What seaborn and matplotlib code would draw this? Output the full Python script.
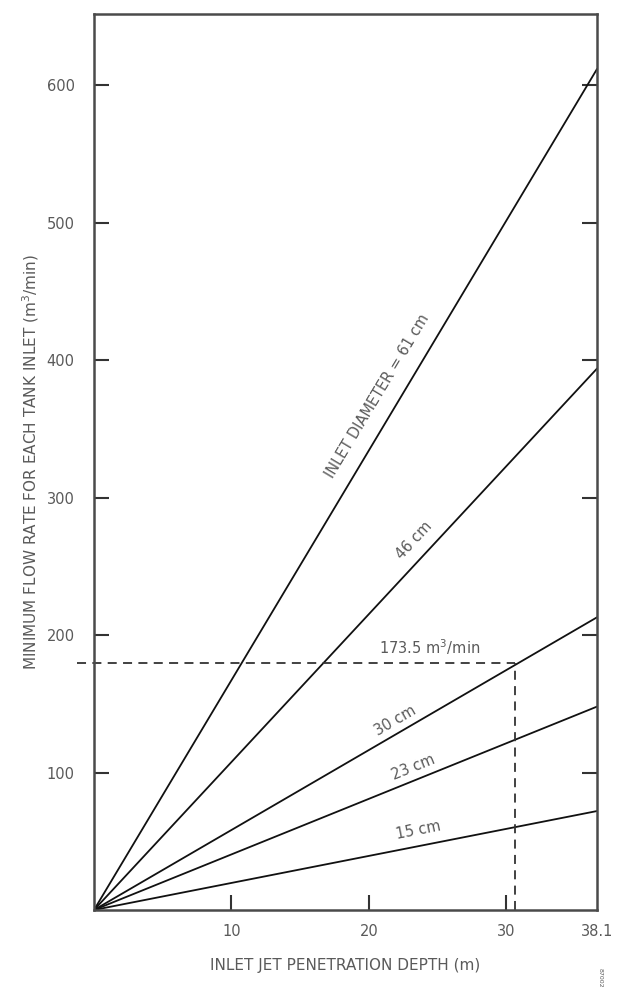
import numpy as np
import pandas as pd
import matplotlib.pyplot as plt
import seaborn as sns

# inlet diameters and the flow rate each line reaches at the right edge of the chart
diameters = ["61 cm", "46 cm", "30 cm", "23 cm", "15 cm"]
flow_at_edge = [612, 394, 213, 148, 72]
depth_edge = 36.6          # where the right border sits on the drawn scale
depth_edge_label = "38.1"

# worked example (dashed lines)
example_depth = 30.6
example_flow = 179.6
example_label = "173.5 m$^3$/min"

# label placement along each line (depth, flow) and text
label_texts = ["INLET DIAMETER = 61 cm", "46 cm", "30 cm", "23 cm", "15 cm"]
label_depth = [20.6, 23.3, 21.9, 23.2, 23.6]
label_flow = [374, 269, 138, 104, 58]

x_ticks = [10, 20, 30]
y_ticks = [100, 200, 300, 400, 500, 600]

sns.set_theme(style="ticks")
plt.rcParams["font.family"] = ["DejaVu Sans"]
grey = "#5a5a5a"

rows = []
for d, f in zip(diameters, flow_at_edge):
    rows.append({"diameter": d, "depth": 0.0, "flow": 0.0})
    rows.append({"diameter": d, "depth": depth_edge, "flow": f})
df = pd.DataFrame(rows)

fig = plt.figure(figsize=(6.2, 9.98), dpi=100)
ax = fig.add_axes([0.1516, 0.0882, 0.963 - 0.1516, 0.986 - 0.0882])

sns.lineplot(data=df, x="depth", y="flow", hue="diameter",
             palette=["#111111"] * len(diameters), linewidth=1.3,
             legend=False, ax=ax)

ax.set_xlim(0, depth_edge)
ax.set_ylim(0, 652)

# dashed worked example
ax.plot([-1.2, example_depth], [example_flow, example_flow], ls=(0, (5, 3.5)),
        color="#333333", lw=1.3, clip_on=False)
ax.plot([example_depth, example_depth], [0, example_flow], ls=(0, (5, 3.5)),
        color="#333333", lw=1.3)
ax.text(24.4, 191, example_label, ha="center", va="center", fontsize=10.5, color=grey)

# line labels rotated along the lines
for t, xd, yd, f in zip(label_texts, label_depth, label_flow, flow_at_edge):
    p0 = ax.transData.transform((0, 0))
    p1 = ax.transData.transform((depth_edge, f))
    ang = np.degrees(np.arctan2(p1[1] - p0[1], p1[0] - p0[0]))
    ax.text(xd, yd, t, rotation=ang, rotation_mode="anchor", ha="center", va="center",
            fontsize=10.5, color=grey)

ax.set_xticks(x_ticks + [depth_edge])
ax.set_xticklabels([str(v) for v in x_ticks] + [depth_edge_label])
ax.set_yticks(y_ticks)
ax.tick_params(axis="x", direction="in", length=11, width=1.5, color="#333333",
               pad=10, labelsize=10.5, labelcolor=grey)
ax.tick_params(axis="y", direction="in", length=11, width=1.5, color="#333333",
               pad=14, labelsize=10.5, labelcolor=grey, right=True)
ax.xaxis.get_major_ticks()[-1].tick1line.set_visible(False)

for s in ax.spines.values():
    s.set_linewidth(1.8)
    s.set_color("#4a4a4a")

ax.set_xlabel("INLET JET PENETRATION DEPTH (m)", fontsize=11, color=grey, labelpad=14)
ax.set_ylabel("MINIMUM FLOW RATE FOR EACH TANK INLET (m$^3$/min)", fontsize=11,
              color=grey, labelpad=4)

fig.text(0.968, 0.02, "87002", rotation=270, fontsize=4.5, color=grey, ha="center", va="center")

plt.savefig("out.png", dpi=100)
